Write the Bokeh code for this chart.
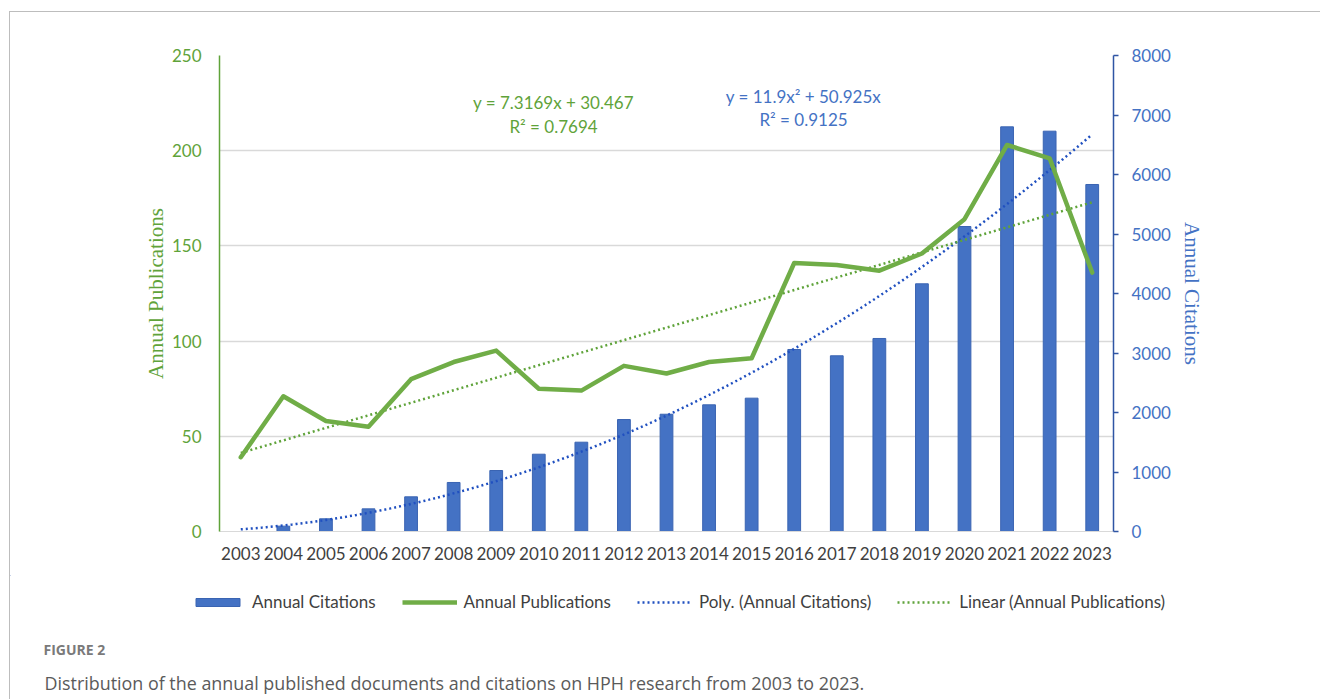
import numpy as np
from bokeh.plotting import figure
from bokeh.layouts import column
from bokeh.models import (Range1d, LinearAxis, FixedTicker, Label, Legend, LegendItem,
                          ColumnDataSource)
from bokeh.embed import file_html
from bokeh.resources import INLINE

years = [str(y) for y in range(2003, 2024)]
citations = [0, 90, 213, 381, 583, 824, 1025, 1299, 1501, 1882, 1971, 2129, 2241,
             3059, 2953, 3244, 4163, 5126, 6801, 6728, 5832]
publications = [39, 71, 58, 55, 80, 89, 95, 75, 74, 87, 83, 89, 91,
                141, 140, 137, 146, 164, 203, 196, 136]
pub_ticks = [0, 50, 100, 150, 200, 250]
cit_ticks = [0, 1000, 2000, 3000, 4000, 5000, 6000, 7000, 8000]
eq_linear = ["y = 7.3169x + 30.467", "R² = 0.7694"]
eq_poly = ["y = 11.9x² + 50.925x", "R² = 0.9125"]
legend_labels = ["Annual Citations", "Annual Publications",
                 "Poly. (Annual Citations)", "Linear (Annual Publications)"]
caption_head = "FIGURE 2"
caption_text = "Distribution of the annual published documents and citations on HPH research from 2003 to 2023."

GREEN = "#70AD47"
GREEN_T = "#5FA33A"
BLUE = "#4472C4"
BLUE_AX = "#2F55A4"
BLUE_DOT = "#2050C0"

# page offsets of the content (left/top border lines at x=9, y=11)
OX, OY = 10, 12
W = 1320 - OX
SPLIT = 575                      # page y where the chart part ends
H1 = SPLIT - OY
H2 = 699 - SPLIT
FL, FR, FT, FB = 219 - OX, 1113 - OX, 55 - OY, 531 - OY

xs = np.arange(1, len(years) + 1)

# trend lines fitted from the data (as the spreadsheet trendlines are)
lin = np.polyfit(xs, publications, 1)
A = np.vstack([xs ** 2, xs]).T
poly_coef, *_ = np.linalg.lstsq(A, np.array(citations, dtype=float), rcond=None)
xf = np.linspace(1, len(years), 200)
lin_y = lin[0] * xf + lin[1]
poly_y = poly_coef[0] * xf ** 2 + poly_coef[1] * xf

p = figure(width=W, height=H1, output_backend="svg", toolbar_location=None,
           x_range=Range1d(0.5, len(years) + 0.5), y_range=Range1d(0, 250),
           min_border_left=FL, min_border_right=W - FR, min_border_top=FT,
           min_border_bottom=H1 - FB)
p.frame_align = False
p.extra_y_ranges = {"cit": Range1d(0, 8000)}
p.outline_line_color = None
p.background_fill_color = "white"
p.border_fill_color = "white"
p.xgrid.visible = False

xa = p.xaxis[0]
xa.ticker = FixedTicker(ticks=list(xs))
xa.major_label_overrides = {int(i): y for i, y in zip(xs, years)}
xa.axis_line_color = "#D9D9D9"
xa.major_tick_line_color = None
xa.minor_tick_line_color = None
xa.major_label_text_font = "Lato"
xa.major_label_text_font_size = "17px"
xa.major_label_text_color = "#3F3F3F"
xa.major_label_standoff = 9

ya = p.yaxis[0]
ya.ticker = FixedTicker(ticks=pub_ticks)
ya.axis_line_color = GREEN_T
ya.axis_line_width = 1.5
ya.major_tick_line_color = None
ya.minor_tick_line_color = None
ya.major_label_text_font = "Lato"
ya.major_label_text_font_size = "17px"
ya.major_label_text_color = GREEN_T
ya.major_label_standoff = 12
ya.axis_label = "Annual Publications"
ya.axis_label_text_font = "Liberation Serif"
ya.axis_label_text_font_style = "normal"
ya.axis_label_text_font_size = "21px"
ya.axis_label_text_color = GREEN_T
ya.axis_label_standoff = 1

p.ygrid[0].ticker = FixedTicker(ticks=pub_ticks)
p.ygrid[0].grid_line_color = "#D9D9D9"
p.ygrid[0].grid_line_width = 1.5

ra = LinearAxis(y_range_name="cit", ticker=FixedTicker(ticks=cit_ticks))
ra.axis_line_color = BLUE_AX
ra.axis_line_width = 1.5
ra.major_tick_line_color = BLUE_AX
ra.major_tick_line_width = 1.5
ra.major_tick_out = 5
ra.major_tick_in = 0
ra.minor_tick_line_color = None
ra.major_label_text_font = "Lato"
ra.major_label_text_font_size = "17px"
ra.major_label_text_color = BLUE
ra.major_label_standoff = 13
ra.axis_label = "Annual Citations"
ra.axis_label_text_font = "Liberation Serif"
ra.axis_label_text_font_style = "normal"
ra.axis_label_text_font_size = "21px"
ra.axis_label_text_color = BLUE
ra.axis_label_standoff = 6
p.add_layout(ra, "right")

src = ColumnDataSource(dict(x=xs, cit=citations, pub=publications))
bars = p.vbar(x="x", top="cit", width=0.3, source=src, y_range_name="cit",
              fill_color=BLUE, line_color="#3A64B2", line_width=1)
poly_r = p.line(xf, poly_y, y_range_name="cit", line_color=BLUE_DOT,
                line_width=2.5, line_dash="2 3")
lin_r = p.line(xf, lin_y, line_color=GREEN_T, line_width=2.5, line_dash="2 3")
pub_r = p.line(x="x", y="pub", source=src, line_color=GREEN, line_width=4.5,
               line_join="round", line_cap="round")
p.renderers = [bars, poly_r, lin_r, pub_r]

def lab(fig, text, X, Y, color, size="17px", font="Lato", align="center",
        baseline="middle", style="normal"):
    fig.add_layout(Label(x=X, y=Y, text=text, text_color=color, text_font=font,
                         text_font_size=size, text_align=align,
                         text_baseline=baseline, text_font_style=style,
                         x_units="screen", y_units="screen"))

def eq(text, X, Y, color):
    lab(p, text, X - 219, 531 - Y, color)

eq(eq_linear[0], 553, 102, GREEN_T)
eq(eq_linear[1], 553, 126, GREEN_T)
eq(eq_poly[0], 803, 96, BLUE)
eq(eq_poly[1], 803, 119, BLUE)

# lower part: legend and caption
q = figure(width=W, height=H2, output_backend="svg", toolbar_location=None,
           x_range=Range1d(OX, 1320), y_range=Range1d(699, SPLIT),
           x_axis_type=None, y_axis_type=None,
           min_border_left=0, min_border_right=0, min_border_top=0, min_border_bottom=0)
q.frame_align = False
q.outline_line_color = None
q.background_fill_color = "white"
q.border_fill_color = "white"
q.xgrid.visible = False
q.ygrid.visible = False

# legend proxies (kept outside the visible range)
far = [-5000, -4990]
lb = q.vbar(x=far[:1], top=[-5000], width=1, fill_color=BLUE, line_color="#3A64B2",
            line_width=1)
ll = q.line(x=far, y=far, line_color=GREEN, line_width=4.5)
lp = q.line(x=far, y=far, line_color=BLUE_DOT, line_width=2.5, line_dash="2 3")
lg = q.line(x=far, y=far, line_color=GREEN_T, line_width=2.5, line_dash="2 3")

legend = Legend(items=[LegendItem(label=legend_labels[0], renderers=[lb]),
                       LegendItem(label=legend_labels[1], renderers=[ll]),
                       LegendItem(label=legend_labels[2], renderers=[lp]),
                       LegendItem(label=legend_labels[3], renderers=[lg])],
                orientation="horizontal", location=(190 - OX, 699 - 612),
                glyph_width=55, glyph_height=10, label_standoff=7, spacing=26,
                padding=0, margin=0, border_line_color=None, background_fill_alpha=0,
                label_text_font="Lato", label_text_font_size="17px",
                label_text_color="#3F3F3F")
q.add_layout(legend, "center")

lab(q, caption_head, 43 - OX, 699 - 649, "#7A7A7A", size="14px", font="Open Sans",
    align="left", baseline="alphabetic", style="bold")
lab(q, caption_text, 44 - OX, 699 - 682, "#5A5A5A", size="17.9px", font="Open Sans",
    align="left", baseline="alphabetic")

layout = column(p, q, spacing=0)
layout.margin = (11, 0, 0, 9)
layout.styles = {"border-left": "1px solid #BDBDBD", "border-top": "1px solid #BDBDBD"}

open("out.html", "w").write(file_html(layout, INLINE))
